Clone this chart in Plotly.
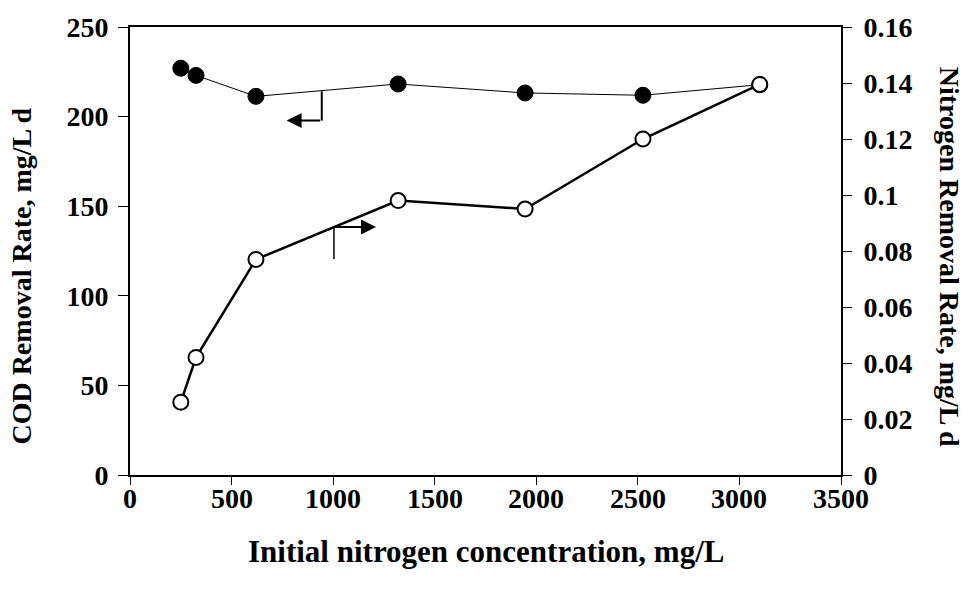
import plotly.graph_objects as go

# ---- data ----
nitrogen_conc = [250, 325, 620, 1320, 1945, 2525, 3100]
cod_rate = [227.0, 223.0, 211.3, 218.2, 213.2, 211.9, 217.8]
n_rate = [0.026, 0.042, 0.077, 0.098, 0.095, 0.120, 0.1395]

x_ticks = [0, 500, 1000, 1500, 2000, 2500, 3000, 3500]
x_ticktext = ["0", "500", "1000", "1500", "2000", "2500", "3000", "3500"]
y1_ticks = [0, 50, 100, 150, 200, 250]
y2_ticks = [0, 0.02, 0.04, 0.06, 0.08, 0.10, 0.12, 0.14, 0.16]
y2_ticktext = ["0", "0.02", "0.04", "0.06", "0.08", "0.1", "0.12", "0.14", "0.16"]

# pointer arrows (data units)
cod_ptr_x, cod_ptr_ytop, cod_ptr_ycorner, cod_ptr_tip = 944, 214.1, 197.8, 771
n_ptr_x, n_ptr_ytop, n_ptr_ybottom, n_ptr_tip = 1004, 0.0886, 0.0771, 1211

FONT = "Liberation Serif"
FS = 28

fig = go.Figure()
fig.add_trace(go.Scatter(
    x=nitrogen_conc, y=cod_rate, mode="lines+markers",
    line=dict(color="black", width=1),
    marker=dict(symbol="circle", size=16, color="black", line=dict(color="black", width=1)),
    yaxis="y", showlegend=False))
fig.add_trace(go.Scatter(
    x=nitrogen_conc, y=n_rate, mode="lines+markers",
    line=dict(color="black", width=2.5),
    marker=dict(symbol="circle", size=15, color="white", line=dict(color="black", width=2)),
    yaxis="y2", showlegend=False))

tickfont = dict(family=FONT, size=FS, color="black", weight="bold")

fig.update_layout(
    width=969, height=591,
    margin=dict(l=130, r=128, t=23, b=116),
    paper_bgcolor="white", plot_bgcolor="white",
    font=dict(family=FONT, color="black"),
    xaxis=dict(range=[0, 3500], tickvals=x_ticks, showgrid=False, zeroline=False,
               showline=True, linecolor="black", linewidth=2, mirror=True,
               ticks="outside", ticklen=8, tickwidth=1, tickcolor="black",
               showticklabels=False),
    yaxis=dict(range=[0, 250], tickvals=y1_ticks, showgrid=False, zeroline=False,
               showline=True, linecolor="black", linewidth=2,
               ticks="outside", ticklen=10, tickwidth=1, tickcolor="black",
               tickfont=tickfont, ticklabelstandoff=4),
    yaxis2=dict(range=[0, 0.16], tickvals=y2_ticks, ticktext=y2_ticktext,
                overlaying="y", side="right", anchor="x",
                showgrid=False, zeroline=False,
                showline=True, linecolor="black", linewidth=2,
                ticks="outside", ticklen=9, tickwidth=1, tickcolor="black",
                tickfont=tickfont, ticklabelstandoff=6),
    yaxis3=dict(range=[0, 0.16], tickvals=y2_ticks, overlaying="y", side="right",
                anchor="x", showgrid=False, zeroline=False, showline=False,
                ticks="inside", ticklen=9, tickwidth=1, tickcolor="black",
                showticklabels=False),
)

annotations = [
    dict(text="Initial nitrogen concentration, mg/L", xref="paper", yref="paper",
         x=0.5, y=-0.171, xanchor="center", yanchor="middle", showarrow=False,
         font=dict(family=FONT, size=31, color="black", weight="bold")),
    dict(text="COD Removal Rate, mg/L d", xref="paper", yref="paper",
         x=-0.152, y=0.445, xanchor="center", yanchor="middle", textangle=-90,
         showarrow=False, font=dict(family=FONT, size=FS, color="black", weight="bold")),
    dict(text="Nitrogen Removal Rate, mg/L d", xref="paper", yref="paper",
         x=1.152, y=0.487, xanchor="center", yanchor="middle", textangle=90,
         showarrow=False, font=dict(family=FONT, size=FS, color="black", weight="bold")),
    # COD pointer: horizontal arrow to the left
    dict(text="", x=cod_ptr_tip, y=cod_ptr_ycorner, ax=cod_ptr_x, ay=cod_ptr_ycorner,
         xref="x", yref="y", axref="x", ayref="y", showarrow=True,
         arrowhead=2, arrowsize=1.5, arrowwidth=2, arrowcolor="black",
         standoff=0, startstandoff=0),
    # Nitrogen pointer: horizontal arrow to the right
    dict(text="", x=n_ptr_tip, y=n_ptr_ytop, ax=n_ptr_x, ay=n_ptr_ytop,
         xref="x", yref="y2", axref="x", ayref="y2", showarrow=True,
         arrowhead=2, arrowsize=1.5, arrowwidth=2, arrowcolor="black",
         standoff=0, startstandoff=0),
]
# x tick labels placed just under the ticks
for v, t in zip(x_ticks, x_ticktext):
    annotations.append(dict(text=t, x=v, y=-0.013, xref="x", yref="paper",
                            xanchor="center", yanchor="top", showarrow=False,
                            font=tickfont))
fig.update_layout(annotations=annotations)

fig.add_shape(type="line", xref="x", yref="y", x0=cod_ptr_x, x1=cod_ptr_x,
              y0=cod_ptr_ytop, y1=cod_ptr_ycorner, line=dict(color="black", width=2))
fig.add_shape(type="line", xref="x", yref="y2", x0=n_ptr_x, x1=n_ptr_x,
              y0=n_ptr_ytop, y1=n_ptr_ybottom, line=dict(color="black", width=1.5))

fig.write_html("out.html")
